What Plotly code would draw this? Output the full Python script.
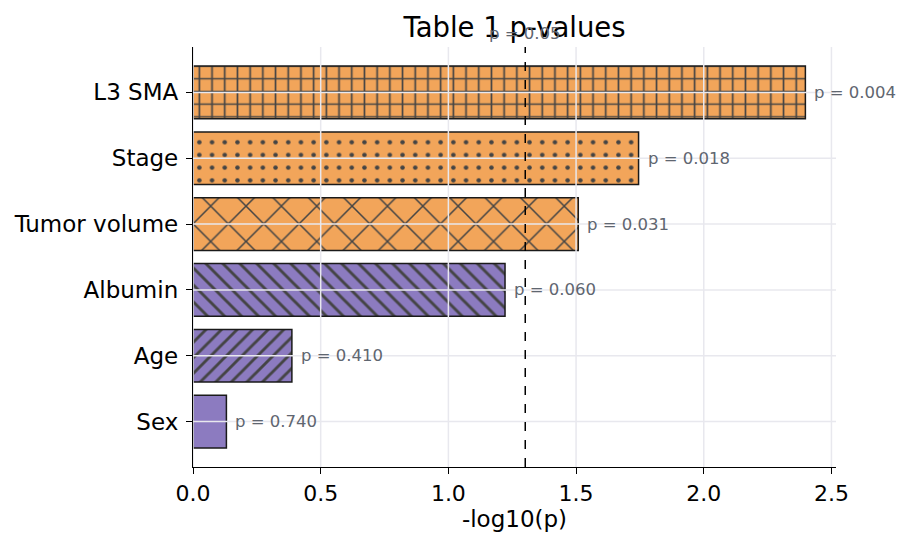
import numpy as np
import plotly.graph_objects as go

categories = ["Sex", "Age", "Albumin", "Tumor volume", "Stage", "L3 SMA"]
p_values = [0.740, 0.410, 0.060, 0.031, 0.018, 0.004]
patterns = ["", "/", "\\", "x", ".", "+"]
pattern_sizes = [12, 11, 12, 25, 12.7, 12.7]
pattern_solidity = [0.25, 0.26, 0.24, 0.12, 0.1, 0.25]
x_ticks = [0.0, 0.5, 1.0, 1.5, 2.0, 2.5]
threshold_p = 0.05

ORANGE = "#F2A55A"
PURPLE = "#8C7BC0"
TEXT_GRAY = "#5F6670"

neglog = [-np.log10(p) for p in p_values]
colors = [ORANGE if p < threshold_p else PURPLE for p in p_values]

fig = go.Figure()
fig.add_trace(go.Bar(
    y=categories, x=neglog, orientation="h", width=0.8,
    marker=dict(
        color=colors,
        line=dict(color="#1a1a1a", width=1.5),
        pattern=dict(shape=patterns, fgcolor="#000000", fgopacity=1,
                     size=pattern_sizes, solidity=pattern_solidity, fillmode="overlay"),
    ),
    showlegend=False, hoverinfo="skip",
))

xmax = max(neglog) * 1.05
shapes = []
for t in x_ticks:
    shapes.append(dict(type="line", xref="x", yref="paper", x0=t, x1=t, y0=0, y1=1,
                       line=dict(color="#E8E8EE", width=1.5), layer="above"))
for c in categories:
    shapes.append(dict(type="line", xref="paper", yref="y", x0=0, x1=1, y0=c, y1=c,
                       line=dict(color="#E8E8EE", width=1.5), layer="above"))
thr = -np.log10(threshold_p)
shapes.append(dict(type="line", xref="x", yref="paper", x0=thr, x1=thr, y0=0, y1=1,
                   line=dict(color="black", width=1.5, dash="dash"), layer="above"))

annotations = []
for c, v, p in zip(categories, neglog, p_values):
    annotations.append(dict(x=v, y=c, xref="x", yref="y", text=f"p = {p:.3f}",
                            showarrow=False, xanchor="left", xshift=7,
                            font=dict(size=16.5, color=TEXT_GRAY, family="DejaVu Sans")))
annotations.append(dict(x=thr, y=1, xref="x", yref="paper", text="p = 0.05",
                        showarrow=False, xanchor="center", yanchor="bottom", yshift=2,
                        font=dict(size=16.5, color=TEXT_GRAY, family="DejaVu Sans")))

fig.update_layout(
    width=911, height=551,
    margin=dict(l=193, r=75, t=47, b=84),
    paper_bgcolor="white", plot_bgcolor="white",
    font=dict(family="DejaVu Sans", size=22, color="black"),
    title=dict(text="Table 1 p-values", x=(193 + 836) / 2 / 911, xanchor="center",
               y=1 - 27 / 551, yanchor="middle", font=dict(size=27.5, color="black")),
    shapes=shapes, annotations=annotations,
    bargap=0.2,
)
fig.update_xaxes(range=[0, xmax], tickvals=x_ticks, ticktext=[f"{t:.1f}" for t in x_ticks],
                 showgrid=False, zeroline=False, showline=True, linecolor="black", linewidth=1.3,
                 ticks="outside", ticklen=6, tickwidth=1.3, tickcolor="black",
                 title=dict(text="-log10(p)", standoff=6, font=dict(size=23)),
                 tickfont=dict(size=22))
fig.update_yaxes(type="category", categoryorder="array", categoryarray=categories,
                 range=[-0.69, len(categories) - 1 + 0.69],
                 showgrid=False, zeroline=False, showline=True, linecolor="black", linewidth=1.3,
                 ticks="outside", ticklen=6, tickwidth=1.3, tickcolor="black",
                 ticklabelstandoff=3, tickfont=dict(size=23))

fig.write_html("out.html")
